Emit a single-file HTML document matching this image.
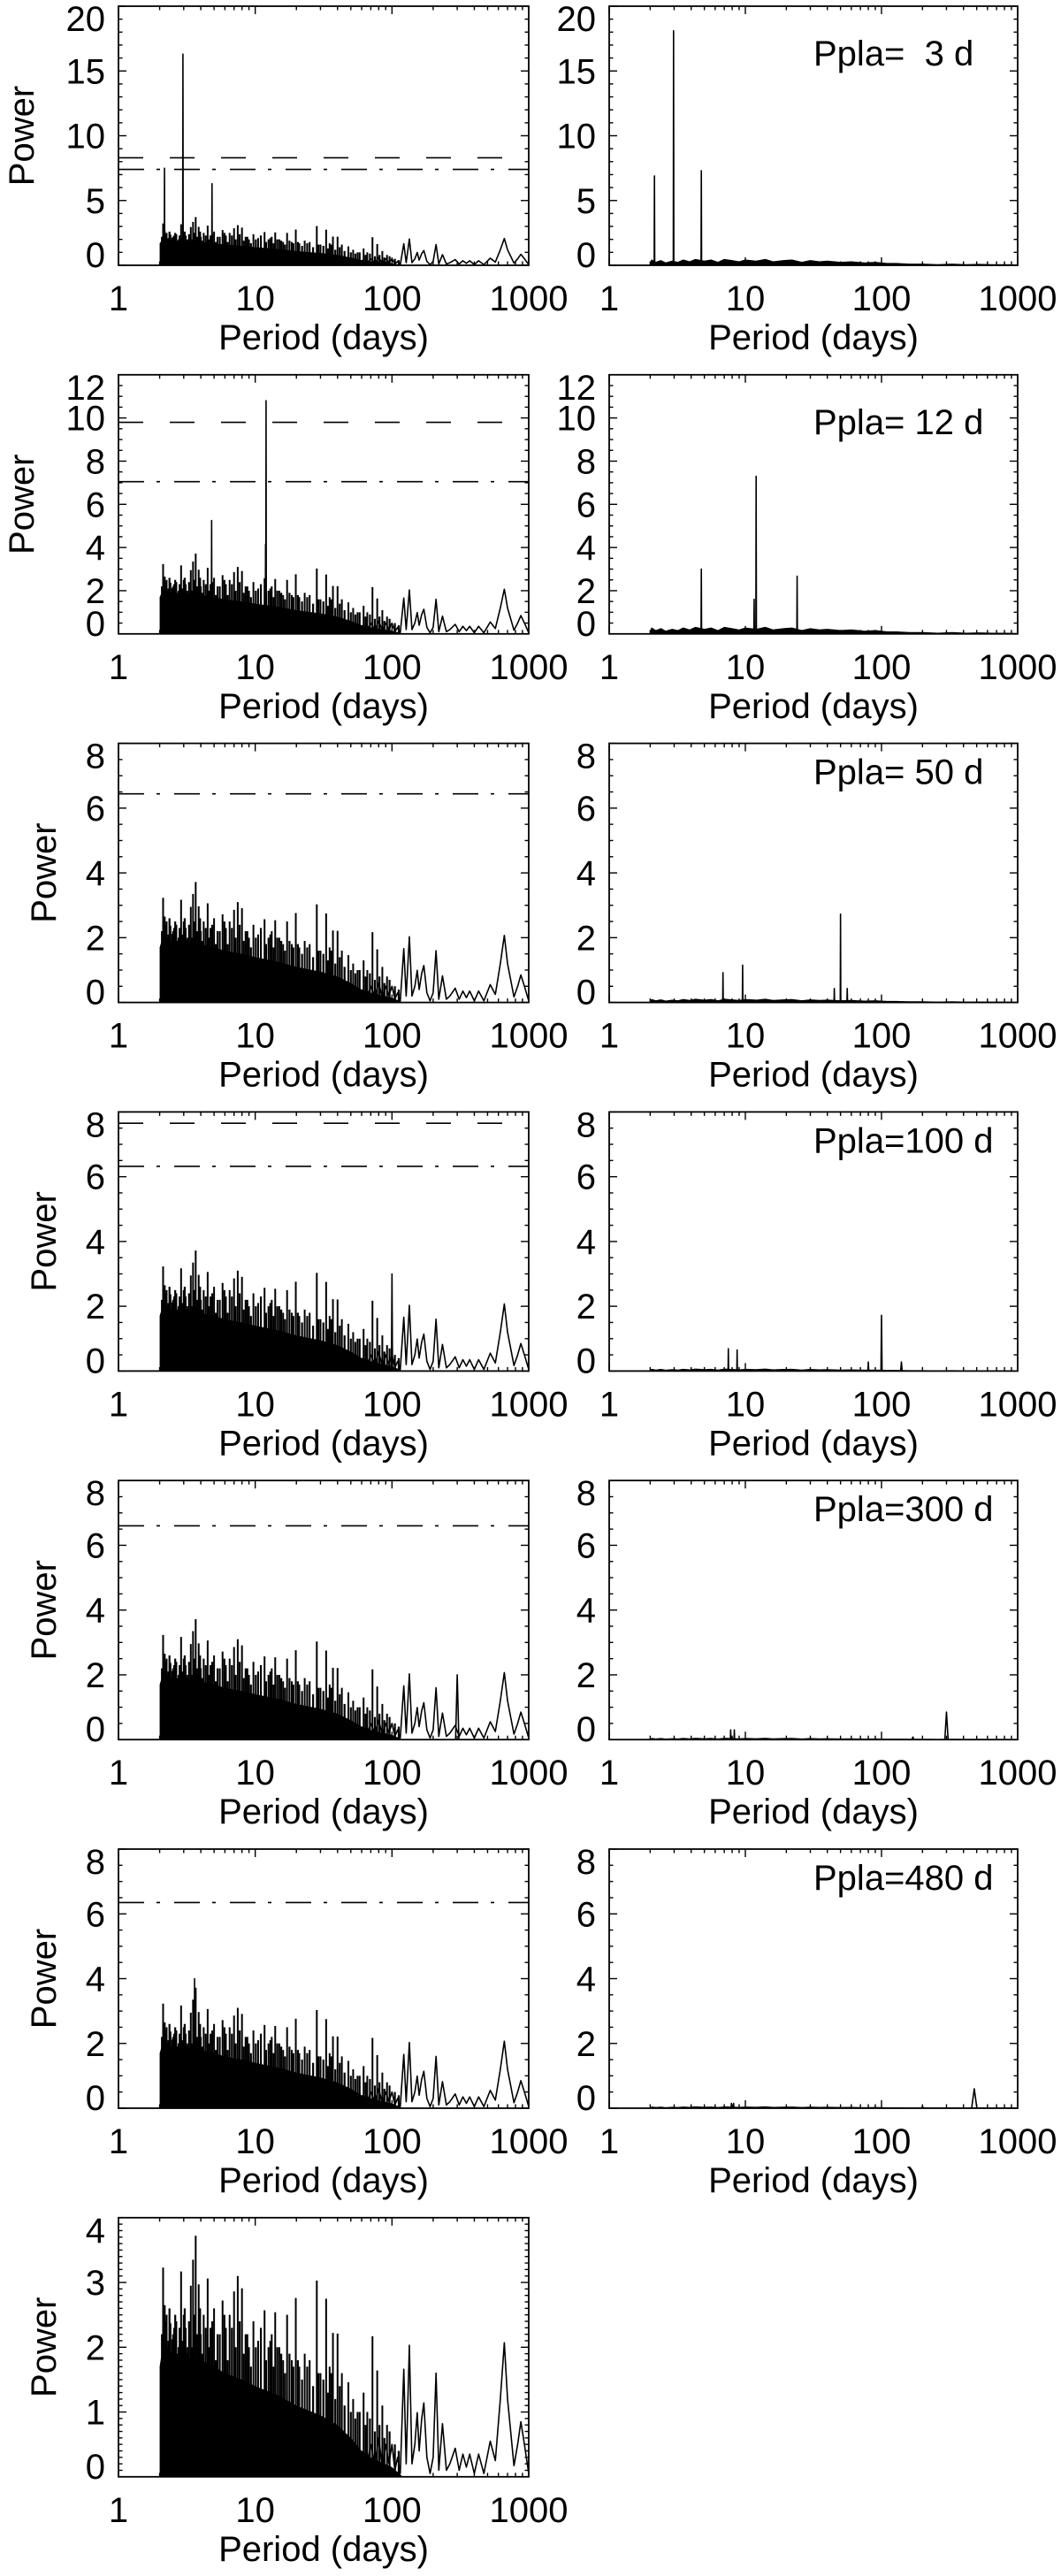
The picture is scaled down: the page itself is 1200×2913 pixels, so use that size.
<!DOCTYPE html>
<html><head><meta charset="utf-8"><style>
html,body{margin:0;padding:0;background:#fff;}
svg{display:block;}
text{font-family:"Liberation Sans",Arial,sans-serif;fill:#000;}
</style></head><body>
<svg id="fig" width="1200" height="2913" viewBox="0 0 1200 2913" xmlns="http://www.w3.org/2000/svg"></svg>
<script>
const yMaxes = [20, 12, 8, 8, 8, 8, 4];
const yMajorSteps = [5, 2, 2, 2, 2, 2, 1];
const yMinorCounts = [5, 4, 4, 4, 4, 4, 10];
const dashLevels = [8.3, 9.8, null, 7.65, null, null, null];
const dotDashLevels = [7.4, 7.05, 6.44, 6.32, 6.6, 6.35, null];
const xTickLabels = ["1", "10", "100", "1000"];
const planetLabels = ["Ppla=  3 d", "Ppla= 12 d", "Ppla= 50 d", "Ppla=100 d", "Ppla=300 d", "Ppla=480 d"];

const spikePeriods = [2.05,2.12,2.18,2.25,2.32,2.4,2.47,2.55,2.65,2.75,2.87,3.0,3.1,3.2,3.38,3.51,3.67,3.86,4.0,4.2,4.49,4.7,5.0,5.3,5.77,6.1,6.5,7.0,7.45,8.0,8.5,9.0,9.7,10.5,11.7,12.5,13.2,14.0,15.0,16.0,17.1,18.5,19.8,21,23,25,28.2,30,33,35,37,40,43,48,52,56,62,66,72,78,85,92];
const spikePowers = [1.6,3.23,2.65,2.5,2.1,2.37,2.12,2.3,2.4,2.0,3.17,2.5,2.3,2.0,2.95,3.35,3.72,2.97,2.2,2.5,3.06,2.3,2.6,2.2,2.72,2.3,2.5,2.86,3.1,2.91,2.2,2.0,2.4,2.1,2.57,2.0,2.2,2.54,2.0,1.8,2.5,1.8,2.76,1.7,1.9,1.8,3.03,1.6,2.75,1.7,2.22,2.21,1.6,1.46,1.2,1.0,1.3,1.0,2.17,1.64,1.1,0.8];
const secPeriods = [2.08,2.15,2.22,2.29,2.36,2.44,2.51,2.6,2.7,2.8,2.93,3.05,3.15,3.28,3.45,3.6,3.77,3.95,4.1,4.35,4.6,4.85,5.15,5.5,5.95,6.3,6.75,7.2,7.7,8.25,8.75,9.3,10.1,11,12,12.9,13.6,14.5,15.5,16.5,17.8,19,20.5,22,24,26.5,29,31.5,34,36,38.5,41.5,45,50,54,58,64,69,75,81,88,96,105,112];
const secPowers = [2.2,1.9,2.4,2.0,2.6,1.8,2.2,2.5,1.9,2.3,2.1,2.6,1.9,2.4,2.0,2.5,2.2,2.6,1.9,2.3,2.0,2.4,1.8,2.2,2.5,1.8,2.3,2.0,2.4,1.9,2.2,1.7,2.0,2.3,1.8,2.1,1.7,2.0,1.9,1.6,1.9,1.7,1.8,1.5,1.7,1.4,1.6,1.5,1.3,1.6,1.2,1.4,1.1,1.0,0.9,1.0,0.8,0.9,0.7,0.8,0.6,0.7,0.5,0.4];
const fillPeriods = [2.0,2.1,2.5,3,4,5,6,8,10,15,20,30,40,50,60,70,100,120];
const fillLevels = [1.7,2.0,1.9,1.85,1.8,1.7,1.6,1.5,1.4,1.25,1.1,0.95,0.8,0.6,0.4,0.3,0.15,0.0];
const tailPeriods = [60,65,70,75,80,85,90,95,100,105,110,115,122,127,134,140,147,153,158,165,171,180,190,200,210,220,234,250,265,290,310,330,350,370,400,430,470,523,570,620,663,700,780,830,876,930,1000];
const tailPowers = [0.4,0.1,0.5,0.2,0.6,0.15,0.5,0.2,0.5,0.1,0.3,0.05,1.66,0.2,2.03,0.2,0.5,0.99,0.4,0.9,1.14,0.3,0.05,0.3,1.6,0.1,0.82,0.1,0.2,0.44,0.1,0.35,0.15,0.35,0.05,0.35,0.05,0.55,0.25,1.2,2.07,1.2,0.17,0.5,0.85,0.5,0.05];
const leftExtraPeriods = [[2.17,2.96,4.83],[4.8,11.9,12.0],[],[100],[300],[3.6]];
const leftExtraPowers = [[7.5,16.3,6.3],[5.25,4.15,10.8],[],[3.0],[2.0],[4.0]];
const rightSpikePeriods = [[2.15,2.97,4.75],[4.75,11.6,12.0,24],[6.85,9.55,45,50,56],[7.5,8.7,80,100,140],[7.8,8.3,170,300],[7.9,8.2,200,480]];
const rightSpikePowers = [[6.9,18.1,7.3],[3.0,1.6,7.3,2.67],[0.92,1.15,0.43,2.73,0.43],[0.69,0.65,0.28,1.72,0.28],[0.3,0.3,0.08,0.85],[0.15,0.15,0.05,0.6]];
const rightNoiseLevels = [0.45, 0.3, 0.1, 0.06, 0.04, 0.04];
const noisePeriods = [2,2.05,2.2,2.4,2.6,2.9,3.2,3.5,3.9,4.3,5,5.6,6.3,7,8,9,10,12,14,16,19,22,26,30,35,40,50,60,75,90,110,130,160,200,260,330,420,520,650,800,1000];
const noiseFractions = [0,0.9,0.5,0.8,0.4,0.7,0.5,0.9,0.6,1.0,0.7,0.9,0.5,1.0,0.8,0.6,0.9,0.7,1.0,0.6,0.8,0.9,0.5,0.8,0.6,0.7,0.5,0.6,0.4,0.5,0.3,0.3,0.2,0.2,0.1,0.2,0.1,0.15,0.1,0.1,0.05];

const NS = "http://www.w3.org/2000/svg";
const svg = document.getElementById("fig");
const ROW_TOP0 = 7, ROW_STEP = 416.8, FH = 293;
const COLS = [{x0:134, w:464}, {x0:689, w:462}];
function mk(tag, attrs, parent){const e=document.createElementNS(NS,tag);for(const k in attrs)e.setAttribute(k,attrs[k]);(parent||svg).appendChild(e);return e;}

function drawPanel(row, col){
  const top = ROW_TOP0 + ROW_STEP*row, bot = top+FH;
  const x0 = COLS[col].x0, w = COLS[col].w;
  const ymax = yMaxes[row];
  const X = p => x0 + Math.log10(p)/3*w;
  const Y = v => bot - Math.min(v,ymax)/ymax*FH;
  const g = mk("g",{});
  
  
  const clip = mk("clipPath",{id:"c"+row+"_"+col},g);
  mk("rect",{x:x0,y:top,width:w,height:FH},clip);
  const dg = mk("g",{"clip-path":"url(#c"+row+"_"+col+")"},g);
  
  
  const spike = (p,v,parent)=>{
    const hw = Math.max(0.002, 4e-5*p)/3*w;
    const xc = X(p);
    const e = mk("polyline",{points:(xc-hw)+","+bot+" "+xc+","+Y(v)+" "+(xc+hw)+","+bot,fill:"none",stroke:"#000","stroke-width":1.6,"stroke-linejoin":"round"},parent);
    
    
  };
  if(col===0){
    let pts = X(fillPeriods[0])+","+bot;
    for(let i=0;i<fillPeriods.length;i++) pts += " "+X(fillPeriods[i])+","+Y(fillLevels[i]);
    pts += " "+X(fillPeriods[fillPeriods.length-1])+","+bot;
    const f = mk("polygon",{points:pts,fill:"#000"},dg);
    
    
    for(let i=0;i<secPeriods.length;i++){
      const xc=X(secPeriods[i]);
      const l=mk("line",{x1:xc,y1:bot,x2:xc,y2:Y(secPowers[i]),stroke:"#000","stroke-width":2.2},dg);
      
      
    }
    for(let i=0;i<spikePeriods.length;i++){
      const xc=X(spikePeriods[i]);
      const l=mk("line",{x1:xc,y1:bot,x2:xc,y2:Y(spikePowers[i]),stroke:"#000","stroke-width":2},dg);
      
      
    }
    let tp = "";
    for(let i=0;i<tailPeriods.length;i++) tp += X(tailPeriods[i])+","+Y(tailPowers[i])+" ";
    const t = mk("polyline",{points:tp,fill:"none",stroke:"#000","stroke-width":1.6,"stroke-linejoin":"round"},dg);
    
    
    if(row<6){
      for(let i=0;i<leftExtraPeriods[row].length;i++) spike(leftExtraPeriods[row][i],leftExtraPowers[row][i],dg);
    }
    if(dashLevels[row]!==null){
      const d=mk("line",{x1:x0,x2:x0+w,y1:Y(dashLevels[row]),y2:Y(dashLevels[row]),stroke:"#000","stroke-width":1.6,"stroke-dasharray":"28 30"},g);
      
      
    }
    if(dotDashLevels[row]!==null){
      const d=mk("line",{x1:x0,x2:x0+w,y1:Y(dotDashLevels[row]),y2:Y(dotDashLevels[row]),stroke:"#000","stroke-width":1.6,"stroke-dasharray":"29 14 4 16"},g);
      
      
    }
  } else {
    const lvl = rightNoiseLevels[row];
    let np = X(noisePeriods[0])+","+bot;
    for(let i=0;i<noisePeriods.length;i++) np += " "+X(noisePeriods[i])+","+Y(noiseFractions[i]*lvl);
    np += " "+X(1000)+","+bot;
    const n = mk("polygon",{points:np,fill:"#000",stroke:"#000","stroke-width":1.2,"stroke-linejoin":"round"},dg);
    
    
    for(let i=0;i<rightSpikePeriods[row].length;i++) spike(rightSpikePeriods[row][i],rightSpikePowers[row][i],dg);
    const lab = mk("text",{x:920,y:top+(row<2?67:46),"font-size":40,"xml:space":"preserve"},g);
    lab.setAttribute('style','white-space:pre');
    lab.textContent = planetLabels[row];
    
    
  }
  const fr = mk("rect",{x:x0,y:top,width:w,height:FH,fill:"none",stroke:"#000","stroke-width":1.8},g);
  
  
  const step = yMajorSteps[row], nMin = yMinorCounts[row];
  for(let v=0; v<=ymax+1e-9; v+=step/nMin){
    const major = Math.abs(v/step-Math.round(v/step))<1e-6;
    const L = major?9:4.5, y=Y(v);
    mk("line",{x1:x0,x2:x0+L,y1:y,y2:y,stroke:"#000","stroke-width":1.4},g);
    mk("line",{x1:x0+w,x2:x0+w-L,y1:y,y2:y,stroke:"#000","stroke-width":1.4},g);
  }
  for(let v=0; v<=ymax+1e-9; v+=step){
    let y=Y(v);
    y=Math.max(top+14,Math.min(bot-12,y));
    const t=mk("text",{x:x0-15,y:y+14,"font-size":40,"text-anchor":"end"},g);
    t.textContent=String(Math.round(v));
    
    
  }
  for(let d=0; d<3; d++){
    for(let m=1;m<=9;m++){
      const p=Math.pow(10,d)*m, xx=X(p), L=(m===1)?9:4.5;
      mk("line",{x1:xx,x2:xx,y1:bot,y2:bot-L,stroke:"#000","stroke-width":1.4},g);
      mk("line",{x1:xx,x2:xx,y1:top,y2:top+L,stroke:"#000","stroke-width":1.4},g);
    }
  }
  for(let i=0;i<xTickLabels.length;i++){
    const t=mk("text",{x:x0+i*w/3,y:bot+51,"font-size":40,"text-anchor":"middle"},g);
    t.textContent=xTickLabels[i];
    
    
  }
  const xt=mk("text",{x:x0+w/2,y:bot+95,"font-size":40,"text-anchor":"middle"},g);
  xt.textContent="Period (days)";
  
  
  if(col===0){
    const cx = (row<2)?25:50, cy=(top+bot)/2;
    const yt=mk("text",{x:cx,y:cy,"font-size":40,"text-anchor":"middle","dominant-baseline":"central",transform:"rotate(-90 "+cx+" "+cy+")"},g);
    yt.textContent="Power";
    
    
  }
}
for(let r=0;r<7;r++){ drawPanel(r,0); if(r<6) drawPanel(r,1); }
</script>
</body></html>
